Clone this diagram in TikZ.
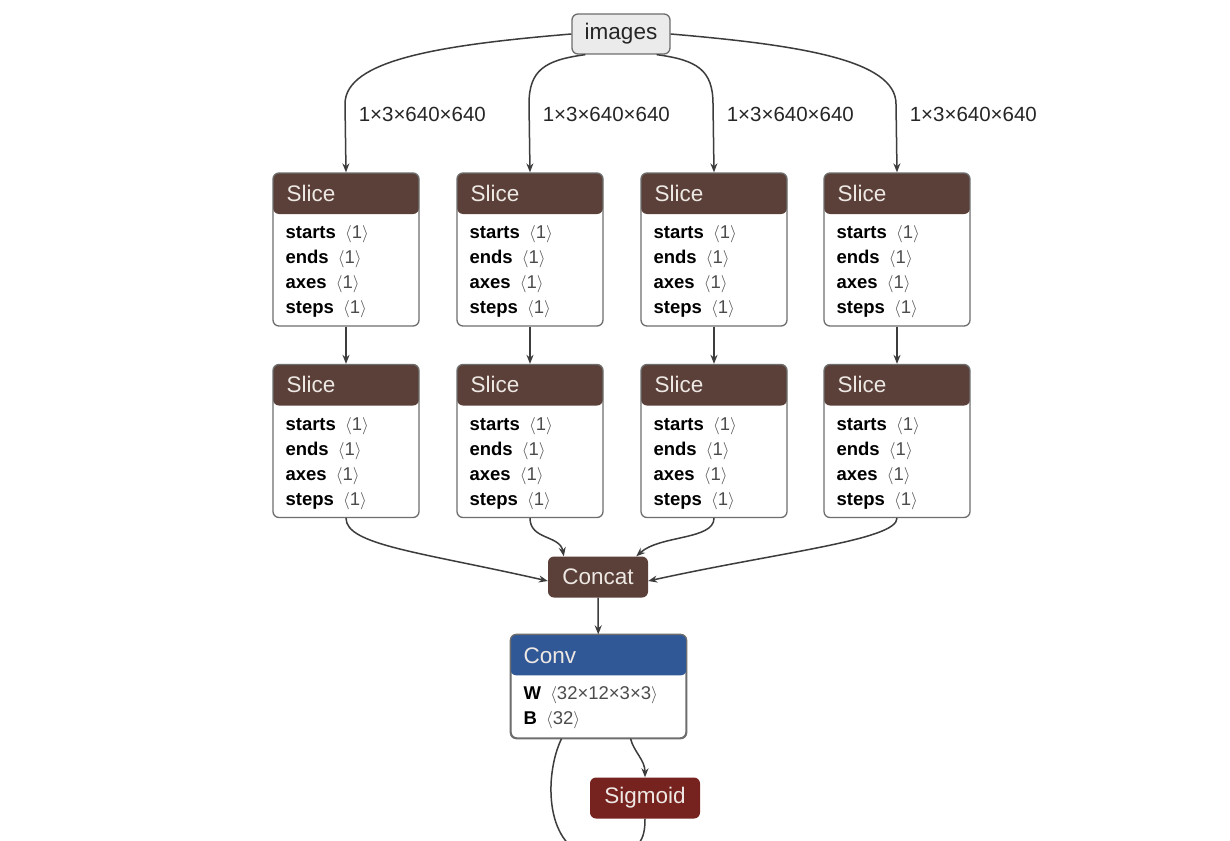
\documentclass[tikz,border=0pt]{standalone}
\usepackage{fontspec}
\setmainfont{Liberation Sans}
\usetikzlibrary{arrows.meta,calc}

\definecolor{slicebrown}{RGB}{90,64,56}
\definecolor{convblue}{RGB}{48,88,150}
\definecolor{sigred}{RGB}{118,34,30}
\definecolor{boxline}{RGB}{110,110,110}
\definecolor{wirecol}{RGB}{60,60,60}
\definecolor{headtext}{RGB}{238,232,228}

\newcommand{\ang}[1]{\textcolor{black!70}{\enspace$\langle$#1$\rangle$}}
\newcommand{\sliceattrs}{\textbf{starts}\ang{1}\\\textbf{ends}\ang{1}\\\textbf{axes}\ang{1}\\\textbf{steps}\ang{1}}

\tikzset{
  opbox/.style={draw=boxline, line width=1.3pt, rounded corners=6pt, fill=white,
    minimum width=146pt, minimum height=153pt, inner sep=0pt,
    path picture={\fill[#1] (path picture bounding box.north west) rectangle ([yshift=-41pt]path picture bounding box.north east);}},
  head/.style={anchor=west, text=headtext, inner sep=0pt, font=\fontsize{22.5}{26}\selectfont},
  attrs/.style={anchor=north west, align=left, inner sep=0pt, font=\fontsize{18.5}{25}\selectfont},
  smallop/.style={draw=none, rounded corners=6pt, fill=#1, text=headtext, minimum height=41pt,
    inner xsep=4pt, font=\fontsize{22.5}{26}\selectfont},
  lbl/.style={anchor=west, inner sep=0pt, text=black!85, font=\fontsize{20.5}{24}\selectfont},
  edge/.style={draw=wirecol, line width=1.5pt, -{Stealth[length=9pt,width=7pt]}}
}

\begin{document}
\begin{tikzpicture}[x=1pt,y=-1pt]

  \fill[white] (0,0) rectangle (1230,840);
  \useasboundingbox (0,0) rectangle (1230,840);

  % input
  \node [draw=boxline, line width=1.3pt, fill=black!8, rounded corners=6pt, minimum width=98pt,
         minimum height=40pt, font=\fontsize{22.5}{26}\selectfont, text=black!85] (images) at (621,34) {images};

  % first row of slices
  \node [opbox=slicebrown] (s11) at (346,249.5) {};
  \node [opbox=slicebrown] (s12) at (530,249.5) {};
  \node [opbox=slicebrown] (s13) at (714,249.5) {};
  \node [opbox=slicebrown] (s14) at (897,249.5) {};

  % second row of slices
  \node [opbox=slicebrown] (s21) at (346,441) {};
  \node [opbox=slicebrown] (s22) at (530,441) {};
  \node [opbox=slicebrown] (s23) at (714,441) {};
  \node [opbox=slicebrown] (s24) at (897,441) {};

  \node [head] (s11h) at ([xshift=14pt,yshift=-21pt]s11.north west) {Slice};
  \node [head] (s12h) at ([xshift=14pt,yshift=-21pt]s12.north west) {Slice};
  \node [head] (s13h) at ([xshift=14pt,yshift=-21pt]s13.north west) {Slice};
  \node [head] (s14h) at ([xshift=14pt,yshift=-21pt]s14.north west) {Slice};
  \node [head] (s21h) at ([xshift=14pt,yshift=-21pt]s21.north west) {Slice};
  \node [head] (s22h) at ([xshift=14pt,yshift=-21pt]s22.north west) {Slice};
  \node [head] (s23h) at ([xshift=14pt,yshift=-21pt]s23.north west) {Slice};
  \node [head] (s24h) at ([xshift=14pt,yshift=-21pt]s24.north west) {Slice};

  \node [attrs] (s11a) at ([xshift=13pt,yshift=-53pt]s11.north west) {\sliceattrs};
  \node [attrs] (s12a) at ([xshift=13pt,yshift=-53pt]s12.north west) {\sliceattrs};
  \node [attrs] (s13a) at ([xshift=13pt,yshift=-53pt]s13.north west) {\sliceattrs};
  \node [attrs] (s14a) at ([xshift=13pt,yshift=-53pt]s14.north west) {\sliceattrs};
  \node [attrs] (s21a) at ([xshift=13pt,yshift=-53pt]s21.north west) {\sliceattrs};
  \node [attrs] (s22a) at ([xshift=13pt,yshift=-53pt]s22.north west) {\sliceattrs};
  \node [attrs] (s23a) at ([xshift=13pt,yshift=-53pt]s23.north west) {\sliceattrs};
  \node [attrs] (s24a) at ([xshift=13pt,yshift=-53pt]s24.north west) {\sliceattrs};

  % concat, conv, sigmoid
  \node [smallop=slicebrown, minimum width=100pt] (concat) at (598,577) {Concat};

  \node [opbox=convblue, minimum width=175pt, minimum height=103pt, path picture={}] (conv) at (598.5,686.5) {};
  \fill[convblue, rounded corners=6pt] (conv.north west) -- ++(0,41) -| (conv.north east) -- cycle;
  \draw[boxline, line width=1.3pt, rounded corners=6pt] (conv.north west) rectangle (conv.south east);
  \node [head] (convh) at ([xshift=13pt,yshift=-21pt]conv.north west) {Conv};
  \node [attrs] (conva) at ([xshift=13pt,yshift=-52pt]conv.north west) {\textbf{W}\ang{32×12×3×3}\\\textbf{B}\ang{32}};

  \node [smallop=sigred, minimum width=110pt] (sig) at (645,798) {Sigmoid};
  \coordinate (mul) at (600,858);

  % wires from the input
  \draw [edge] (images.west) .. controls (440,45) and (345,60) .. (345,104)
        node [lbl, xshift=13pt, yshift=-10pt] (l1) {1×3×640×640} -- (s11.north);
  \draw [edge] ([xshift=14pt]images.south west) .. controls (545,60) and (529,70) .. (529,104)
        node [lbl, xshift=13pt, yshift=-10pt] (l2) {1×3×640×640} -- (s12.north);
  \draw [edge] ([xshift=-14pt]images.south east) .. controls (697,60) and (713,70) .. (713,104)
        node [lbl, xshift=13pt, yshift=-10pt] (l3) {1×3×640×640} -- (s13.north);
  \draw [edge] (images.east) .. controls (800,45) and (896,60) .. (896,104)
        node [lbl, xshift=13pt, yshift=-10pt] (l4) {1×3×640×640} -- (s14.north);

  % slice to slice
  \draw [edge] (s11) -- (s21);
  \draw [edge] (s12) -- (s22);
  \draw [edge] (s13) -- (s23);
  \draw [edge] (s14) -- (s24);

  % into concat
  \draw [edge] (s21.south) .. controls (346,545) and (420,552) .. ([yshift=-4pt]concat.west);
  \draw [edge] (s22.south) .. controls (530,540) and (560,535) .. ([xshift=16pt]concat.north west);
  \draw [edge] (s23.south) .. controls (714,540) and (660,535) .. ([xshift=-12pt]concat.north east);
  \draw [edge] (s24.south) .. controls (897,540) and (780,552) .. ([yshift=-4pt]concat.east);

  % tail
  \draw [edge] (concat) -- (conv);
  \draw [edge] ([xshift=32pt]conv.south) .. controls (634,752) and (645,760) .. (sig.north);
  \draw [edge] ([xshift=-37pt]conv.south) .. controls (544,775) and (544,850) .. (mul);
  \draw [edge] (sig.south) .. controls (645,840) and (640,852) .. (mul);

\end{tikzpicture}
\end{document}
